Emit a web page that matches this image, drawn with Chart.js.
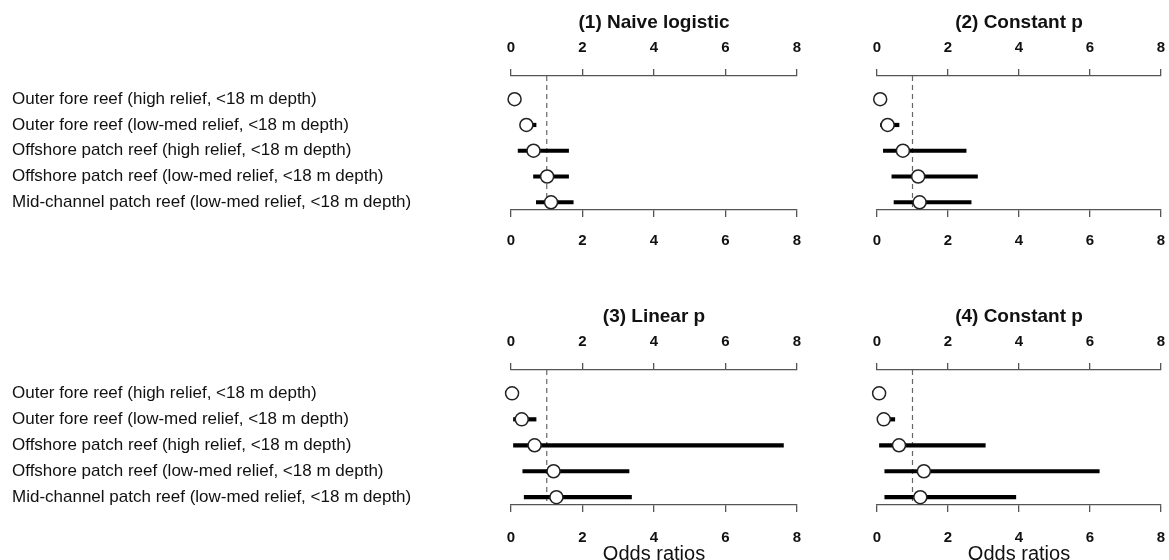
<!DOCTYPE html>
<html>
<head>
<meta charset="utf-8">
<script src="https://cdn.jsdelivr.net/npm/chart.js@4.4.1/dist/chart.umd.min.js"></script>
<style>
  html, body { margin: 0; padding: 0; background: #ffffff; overflow: hidden; }
  body { width: 1169px; height: 560px; position: relative; }
  canvas { position: absolute; }
</style>
</head>
<body>
<canvas id="p1" style="left:0px;top:0px" width="840" height="290"></canvas>
<canvas id="p2" style="left:840px;top:0px" width="329" height="290"></canvas>
<canvas id="p3" style="left:0px;top:290px" width="840" height="280"></canvas>
<canvas id="p4" style="left:840px;top:290px" width="329" height="280"></canvas>
<script>
// Reef habitat categories (top to bottom)
const rowLabels = [
  'Outer fore reef (high relief, <18 m depth)',
  'Outer fore reef (low-med relief, <18 m depth)',
  'Offshore patch reef (high relief, <18 m depth)',
  'Offshore patch reef (low-med relief, <18 m depth)',
  'Mid-channel patch reef (low-med relief, <18 m depth)'
];
const tickValues = [0, 2, 4, 6, 8];
const panelTitles = ['(1) Naive logistic', '(2) Constant p', '(3) Linear p', '(4) Constant p'];
const xAxisTitle = 'Odds ratios';
const referenceOdds = 1;

// Odds ratio estimates with lower / upper interval bounds, one array per model
const est1 = [0.10, 0.43, 0.63, 1.01, 1.12];
const lo1  = [0.04, 0.25, 0.19, 0.62, 0.70];
const hi1  = [0.18, 0.71, 1.62, 1.62, 1.75];

const est2 = [0.09, 0.30, 0.73, 1.16, 1.20];
const lo2  = [0.04, 0.09, 0.17, 0.41, 0.47];
const hi2  = [0.16, 0.63, 2.52, 2.84, 2.66];

const est3 = [0.03, 0.30, 0.66, 1.19, 1.27];
const lo3  = [0.01, 0.06, 0.06, 0.32, 0.36];
const hi3  = [0.08, 0.71, 7.63, 3.31, 3.38];

const est4 = [0.06, 0.19, 0.62, 1.32, 1.22];
const lo4  = [0.02, 0.06, 0.06, 0.21, 0.21];
const hi4  = [0.12, 0.51, 3.06, 6.27, 3.92];

const FONT = '"Liberation Sans", Arial, Helvetica, sans-serif';
const AXIS_COLOR = '#555555';
const Y_MIN = -0.9, Y_MAX = 4.3;

function buildPanel(canvasId, cfg) {
  const { title, est, lo, hi, showLabels, showXTitle, padLeft, padRight,
          titleTop, topAxisH, bottomAxisH, bottomTickPad } = cfg;

  const datasets = [];
  // dashed reference line at odds ratio = 1
  datasets.push({
    type: 'line',
    data: [{ x: referenceOdds, y: Y_MIN }, { x: referenceOdds, y: Y_MAX }],
    borderColor: '#666666',
    borderWidth: 1.2,
    borderDash: [5, 4],
    pointRadius: 0,
    clip: false,
    order: 3
  });
  // interval bars
  est.forEach((_, i) => {
    datasets.push({
      type: 'line',
      data: [{ x: lo[i], y: i }, { x: hi[i], y: i }],
      borderColor: '#000000',
      borderWidth: 4.2,
      borderCapStyle: 'butt',
      pointRadius: 0,
      clip: false,
      order: 2
    });
  });
  // point estimates
  datasets.push({
    type: 'scatter',
    data: est.map((v, i) => ({ x: v, y: i })),
    backgroundColor: '#ffffff',
    borderColor: '#222222',
    borderWidth: 1.5,
    pointRadius: 6.5,
    pointHoverRadius: 6.5,
    clip: false,
    order: 1
  });

  const xScaleBase = (position, tickPad, height) => ({
    type: 'linear',
    position: position,
    min: 0,
    max: 8,
    afterBuildTicks: (s) => { s.ticks = tickValues.map(v => ({ value: v })); },
    afterFit: (s) => {
      s.height = height;
      // keep the plot width fixed; the edge labels fit inside the layout padding
      s.paddingLeft = 0;
      s.paddingRight = 0;
    },
    grid: { drawOnChartArea: false, drawTicks: true, tickLength: 7, color: AXIS_COLOR, lineWidth: 1.3 },
    border: { display: true, color: AXIS_COLOR, width: 1.3 },
    ticks: {
      padding: tickPad,
      color: '#111111',
      maxRotation: 0,
      autoSkip: false,
      font: { family: FONT, size: 15, weight: 'bold', lineHeight: 1.2 }
    }
  });

  const xBottom = xScaleBase('bottom', bottomTickPad, bottomAxisH);
  if (showXTitle) {
    xBottom.title = {
      display: true,
      text: xAxisTitle,
      color: '#111111',
      font: { family: FONT, size: 20, lineHeight: 1.2 },
      padding: { top: 0, bottom: 4 }
    };
  }

  new Chart(document.getElementById(canvasId), {
    type: 'scatter',
    data: { datasets },
    options: {
      responsive: false,
      animation: false,
      devicePixelRatio: 1,
      layout: { padding: { left: padLeft, right: padRight, top: 0, bottom: 0 } },
      plugins: {
        legend: { display: false },
        tooltip: { enabled: false },
        title: {
          display: true,
          text: title,
          fullSize: false,
          color: '#111111',
          font: { family: FONT, size: 19, weight: 'bold', lineHeight: 1.2 },
          padding: { top: titleTop, bottom: 0 }
        }
      },
      scales: {
        x: xBottom,
        xTop: xScaleBase('top', 12, topAxisH),
        y: {
          type: 'linear',
          reverse: true,
          min: Y_MIN,
          max: Y_MAX,
          display: showLabels,
          afterBuildTicks: (s) => { s.ticks = rowLabels.map((_, i) => ({ value: i })); },
          afterFit: (s) => { if (showLabels) s.width = 499; },
          grid: { display: false, drawTicks: false },
          border: { display: false },
          ticks: {
            crossAlign: 'far',
            padding: 0,
            color: '#111111',
            autoSkip: false,
            font: { family: FONT, size: 17, lineHeight: 1.2 },
            callback: (v) => rowLabels[v]
          }
        }
      }
    }
  });
}

// title block height = titleTop + 19 * 1.2
buildPanel('p1', { title: panelTitles[0], est: est1, lo: lo1, hi: hi1, showLabels: true,  showXTitle: false,
  padLeft: 12, padRight: 43, titleTop: 11.6, topAxisH: 41.6, bottomAxisH: 80, bottomTickPad: 14.6 });
buildPanel('p2', { title: panelTitles[1], est: est2, lo: lo2, hi: hi2, showLabels: false, showXTitle: false,
  padLeft: 37, padRight: 6, titleTop: 11.6, topAxisH: 41.6, bottomAxisH: 80, bottomTickPad: 14.6 });
buildPanel('p3', { title: panelTitles[2], est: est3, lo: lo3, hi: hi3, showLabels: true,  showXTitle: true,
  padLeft: 12, padRight: 43, titleTop: 15.6, topAxisH: 41.6, bottomAxisH: 65, bottomTickPad: 17 });
buildPanel('p4', { title: panelTitles[3], est: est4, lo: lo4, hi: hi4, showLabels: false, showXTitle: true,
  padLeft: 37, padRight: 6, titleTop: 15.6, topAxisH: 41.6, bottomAxisH: 65, bottomTickPad: 17 });
</script>
</body>
</html>
